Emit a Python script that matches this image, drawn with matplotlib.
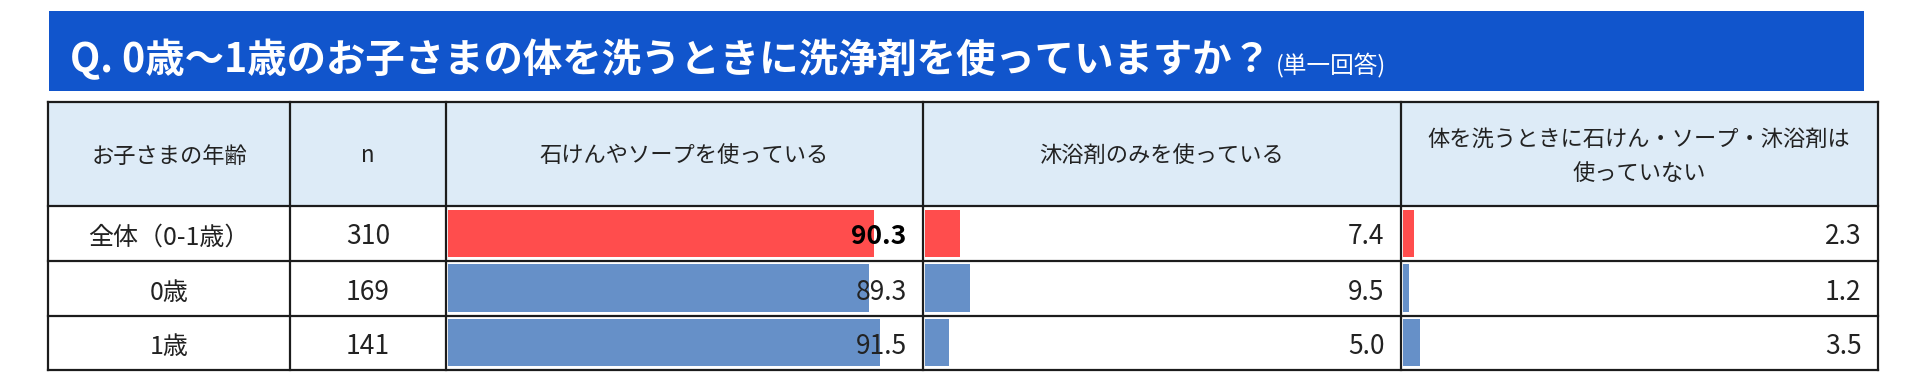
import matplotlib
matplotlib.use("Agg")
import matplotlib.pyplot as plt
from matplotlib.patches import Rectangle

plt.rcParams['font.family'] = ['Noto Sans CJK JP', 'DejaVu Sans']

# ---------------- data ----------------
title = "Q. 0歳～1歳のお子さまの体を洗うときに洗浄剤を使っていますか？"
subtitle = "(単一回答)"
header_age = "お子さまの年齢"
header_n = "n"
categories = ["石けんやソープを使っている", "沐浴剤のみを使っている",
              "体を洗うときに石けん・ソープ・沐浴剤は\n使っていない"]
age_groups = ["全体（0-1歳）", "0歳", "1歳"]
n_values = [310, 169, 141]
soap = [90.3, 89.3, 91.5]
bath_agent_only = [7.4, 9.5, 5.0]
none_used = [2.3, 1.2, 3.5]

# ---------------- layout / style ----------------
W, H = 1920, 385
BANNER = "#1155CC"
HEAD_BG = "#DDEBF7"
RED = "#FF4D4D"
BLUE = "#6690C8"
LINE = "#1c1c1c"
TXT = "#222222"

X = [48, 290, 446, 922.7, 1400.7, 1877.7]   # column edges (px)
Y = [102, 206, 261, 316, 370]              # row edges (px)

fig = plt.figure(figsize=(W / 100, H / 100), dpi=100)
fig.patch.set_facecolor("white")

base = fig.add_axes([0, 0, 1, 1])
base.set_xlim(0, W)
base.set_ylim(H, 0)
base.axis("off")
base.set_zorder(5)
base.patch.set_visible(False)

# banner
base.add_patch(Rectangle((49, 11), 1864 - 49, 80, facecolor=BANNER,
                         edgecolor="none", zorder=0))
t = base.text(70, 72, title, color="white", fontsize=28, fontweight="bold",
              ha="left", va="baseline")
r = fig.canvas.get_renderer()
bb = t.get_window_extent(r)
t.set_fontsize(28 * (1272 - 70) / bb.width)
bb = t.get_window_extent(r)
base.text(bb.x1 + 5, 72, subtitle, color="white", fontsize=17,
          ha="left", va="baseline")

# header background
base.add_patch(Rectangle((X[0], Y[0]), X[-1] - X[0], Y[1] - Y[0],
                         facecolor=HEAD_BG, edgecolor="none", zorder=0))

# grid lines
for x in X:
    base.plot([x, x], [Y[0], Y[-1]], color=LINE, lw=1.6, solid_capstyle="projecting")
for y in Y:
    base.plot([X[0], X[-1]], [y, y], color=LINE, lw=1.6, solid_capstyle="projecting")

# header texts
hfs = 16
hc = (Y[0] + Y[1]) / 2
def cx(i):
    return (X[i] + X[i + 1]) / 2
base.text(cx(0), hc + 8.5, header_age, fontsize=hfs, color=TXT, ha="center", va="baseline")
base.text(cx(1), hc + 8.5, header_n, fontsize=hfs, color=TXT, ha="center", va="baseline")
for j, cat in enumerate(categories):
    lines = cat.split("\n")
    if len(lines) == 1:
        base.text(cx(2 + j), hc + 8.5, lines[0], fontsize=hfs, color=TXT,
                  ha="center", va="baseline")
    else:
        gap = 34
        for k, ln in enumerate(lines):
            yy = hc + 8.5 + (k - (len(lines) - 1) / 2) * gap
            base.text(cx(2 + j), yy, ln, fontsize=hfs, color=TXT,
                      ha="center", va="baseline")

# row texts
series = [soap, bath_agent_only, none_used]
for i, (lab, n) in enumerate(zip(age_groups, n_values)):
    rc = (Y[1 + i] + Y[2 + i]) / 2
    base.text(cx(0), rc + 11, lab, fontsize=18, color=TXT, ha="center", va="baseline")
    base.text(cx(1), rc + 11, f"{n}", fontsize=19, color=TXT, ha="center", va="baseline")
    for j, vals in enumerate(series):
        bold = (i == 0 and j == 0)
        base.text(X[3 + j] - 16, rc + 11, f"{vals[i]:.1f}", fontsize=19,
                  color="black" if bold else TXT,
                  fontweight="bold" if bold else "normal",
                  ha="right", va="baseline")

# bars: one axes per category column, scale 0-100 %
bar_starts = [448, 925, 1403]
bar_w = 472
colors = [RED] + [BLUE] * (len(age_groups) - 1)
for j, vals in enumerate(series):
    ax = fig.add_axes([bar_starts[j] / W, 1 - Y[-1] / H, bar_w / W, (Y[-1] - Y[1]) / H])
    ax.set_xlim(0, 100)
    ax.set_ylim(len(vals) - 0.5, -0.5)
    ax.axis("off")
    ax.barh(range(len(vals)), vals, height=0.87, color=colors, edgecolor="none")

fig.savefig("out.png", dpi=100, facecolor="white")
